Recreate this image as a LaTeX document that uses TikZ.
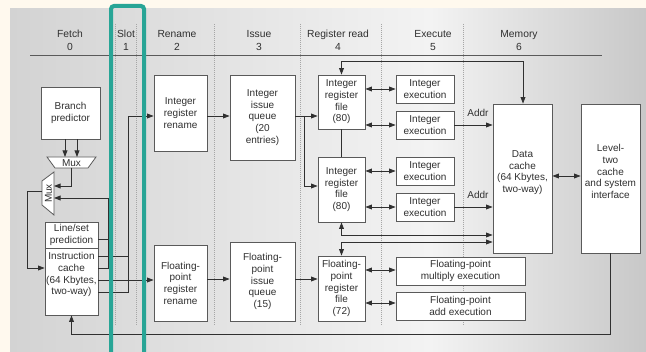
\documentclass[tikz,border=0pt]{standalone}
\usepackage{fontspec}
\setmainfont{Liberation Sans}
\usetikzlibrary{arrows.meta,calc}

\definecolor{cream}{HTML}{FFF9EE}
\definecolor{panelL}{HTML}{D3D3D3}
\definecolor{panelM}{HTML}{F3F3F3}
\definecolor{panelR}{HTML}{C8C8C8}
\definecolor{ink}{HTML}{303030}
\definecolor{edge}{HTML}{5A5A5A}
\definecolor{sep}{HTML}{A6A6A6}
\definecolor{slotteal}{HTML}{28A596}

% panel background: grey at the sides, light in the middle
\pgfdeclarehorizontalshading{panelshade}{100bp}{%
  color(0bp)=(panelL); color(25bp)=(panelL); color(58bp)=(panelM);
  color(75bp)=(panelR); color(100bp)=(panelR)}

\begin{document}
\begin{tikzpicture}[x=1pt,y=-1pt,
  box/.style={draw=edge, fill=white, line width=0.8pt, align=center,
    inner sep=1pt, text=ink, font=\fontsize{10}{11.7}\selectfont},
  hdr/.style={align=center, text=ink, inner sep=0pt,
    font=\fontsize{10.3}{12.8}\selectfont},
  lbl/.style={text=ink, inner sep=0pt, font=\fontsize{10}{11.7}\selectfont},
  wire/.style={draw=ink, line width=0.85pt},
  arr/.style={wire, -{Triangle[length=6.5pt,width=4.8pt]}},
  darr/.style={wire, {Triangle[length=6.5pt,width=4.8pt]}-{Triangle[length=6.5pt,width=4.8pt]}},
  sepline/.style={draw=sep, line width=0.6pt, dash pattern=on 1pt off 1pt},
  muxbox/.style={draw=edge, fill=white, line width=0.8pt}]

\useasboundingbox (0,0) rectangle (646,352);
\fill[cream] (0,0) rectangle (646,352);
\shade[shading=panelshade] (10,9) rectangle (646,352);

% stage separators
\foreach \x in {115,136,214,300,381,463}
  \draw[sepline] (\x,24) -- (\x,326);

% stage headings
\node[hdr] (hfetch)  at (70,40.5)  {Fetch\\0};
\node[hdr] (hslot)   at (126,40.5) {Slot\\1};
\node[hdr] (hrename) at (177,40.5) {Rename\\2};
\node[hdr] (hissue)  at (259,40.5) {Issue\\3};
\node[hdr] (hread)   at (338,40.5) {Register read\\4};
\node[hdr] (hexec)   at (433,40.5) {Execute\\5};
\node[hdr] (hmem)    at (519,40.5) {Memory\\6};
\draw[draw=edge, line width=0.8pt] (30,55) -- (602,55);

% fetch stage
\node[box, minimum width=59pt, minimum height=52pt] (bp) at (70.5,113) {Branch\\predictor};
\node[box, minimum width=53pt, minimum height=26pt] (lsp) at (71.5,235) {Line/set\\prediction};
\node[box, minimum width=53pt, minimum height=67pt] (ic) at (71.5,281.5) {Instruction\\cache\\(64 Kbytes,\\two-way)\\[4pt]};

% multiplexers
\draw[muxbox] (47,157) -- (96,157) -- (88,168) -- (55,168) -- cycle;
\node[lbl] (muxa) at (71.5,162.8) {Mux};
\coordinate (muxaout) at (71.5,168);
\draw[muxbox] (54,172) -- (54,215) -- (42,205) -- (42,181) -- cycle;
\node[lbl, rotate=90] (muxb) at (48.5,193.5) {Mux};
\coordinate (muxbin1) at (54,186);
\coordinate (muxbin2) at (54,198);
\coordinate (muxbout) at (42,191);

% rename / issue / register read
\node[box, minimum width=53pt, minimum height=76pt] (irr) at (180.5,113) {Integer\\register\\rename};
\node[box, minimum width=53pt, minimum height=76pt] (fpr) at (180.5,283) {Floating-\\point\\register\\rename};
\node[box, minimum width=65pt, minimum height=85pt] (iiq) at (262.5,117.5) {Integer\\issue\\queue\\(20\\entries)};
\node[box, minimum width=65pt, minimum height=79pt] (fiq) at (262.5,281.5) {Floating-\\point\\issue\\queue\\(15)};
\node[box, minimum width=47pt, minimum height=54pt] (irf1) at (341.5,102) {Integer\\register\\file\\(80)};
\node[box, minimum width=47pt, minimum height=65pt] (irf2) at (341.5,189.5) {Integer\\register\\file\\(80)};
\node[box, minimum width=47pt, minimum height=65pt] (frf) at (341.5,288.5) {Floating-\\point\\register\\file\\(72)};

% execute
\node[box, minimum width=58pt, minimum height=28pt] (ie1) at (425,89)  {Integer\\execution};
\node[box, minimum width=58pt, minimum height=28pt] (ie2) at (425,125) {Integer\\execution};
\node[box, minimum width=58pt, minimum height=28pt] (ie3) at (425,171) {Integer\\execution};
\node[box, minimum width=58pt, minimum height=28pt] (ie4) at (425,207) {Integer\\execution};
\node[box, minimum width=129pt, minimum height=28pt] (fm) at (460.5,271) {Floating-point\\multiply execution};
\node[box, minimum width=129pt, minimum height=28pt] (fa) at (460.5,306) {Floating-point\\add execution};

% memory
\node[box, minimum width=59pt, minimum height=149pt] (dc) at (522.5,178.5) {Data\\cache\\(64 Kbytes,\\two-way)\\[2pt]};
\node[box, minimum width=59pt, minimum height=149pt] (l2) at (610.5,178.5) {Level-\\two\\cache\\and system\\interface\\[2pt]};

% fetch connections
\draw[arr] (65,0 |- bp.south) -- (65,157);
\draw[arr] (77,0 |- bp.south) -- (77,157);
\draw[arr] (muxaout) -- (muxaout |- muxbin1) -- (muxbin1);
\draw[arr] (lsp.east |- 0,239) -- (108,239) -- (108,198) -- (muxbin2);
\draw[wire] (ic.east |- 0,268) -- (108,268) -- (108,239);
\draw[arr] (muxbout) -- (27,191) -- (27,268) -- (ic.west |- 0,268);
\draw[wire] (ic.east |- 0,256) -- (128,256);
\draw[arr] (ic.east |- 0,292) -- (128,292) -- (128,116) -- (irr.west |- 0,116);
\draw[arr] (ic.east |- 0,280) -- (fpr.west |- 0,280);

% rename -> issue -> register read
\draw[arr] (irr.east |- 0,116) -- (iiq.west |- 0,116);
\draw[arr] (fpr.east |- 0,279) -- (fiq.west |- 0,279);
\draw[arr] (iiq.east |- 0,116) -- (irf1.west |- 0,116);
\draw[arr] (304,116) -- (304,186) -- (irf2.west |- 0,186);
\draw[arr] (fiq.east |- 0,279) -- (frf.west |- 0,279);
\draw[wire] (irf1.south) -- (irf2.north);

% register files <-> execution units
\draw[darr] (irf1.east |- ie1.west) -- (ie1.west);
\draw[darr] (irf1.east |- ie2.west) -- (ie2.west);
\draw[darr] (irf2.east |- ie3.west) -- (ie3.west);
\draw[darr] (irf2.east |- ie4.west) -- (ie4.west);
\draw[darr] (frf.east |- 0,270) -- (fm.west |- 0,270);
\draw[darr] (frf.east |- 0,303) -- (fa.west |- 0,303);

% data cache paths
\draw[darr] (irf1.north) -- (irf1.north |- 0,61) -- (523,61) -- (523,0 |- dc.north);
\draw[arr] (ie2.east) -- (dc.west |- ie2.east);
\node[lbl] (addr1) at (478,113) {Addr};
\draw[arr] (ie4.east) -- (dc.west |- ie4.east);
\node[lbl] (addr2) at (478,195) {Addr};
\draw[darr] (irf2.south) -- (irf2.south |- 0,235) -- (dc.west |- 0,235);
\draw[darr] (frf.north) -- (frf.north |- 0,242) -- (dc.west |- 0,242);
\draw[darr] (dc.east |- 0,176) -- (l2.west |- 0,176);

% refill path back to the instruction cache
\draw[arr] (610,0 |- l2.south) -- (610,334) -- (ic.south |- 0,334) -- (ic.south);

% highlighted slot stage
\draw[slotteal, line width=4pt, rounded corners=3pt] (111,356) -- (111,6) -- (144,6) -- (144,356);
\end{tikzpicture}
\end{document}
